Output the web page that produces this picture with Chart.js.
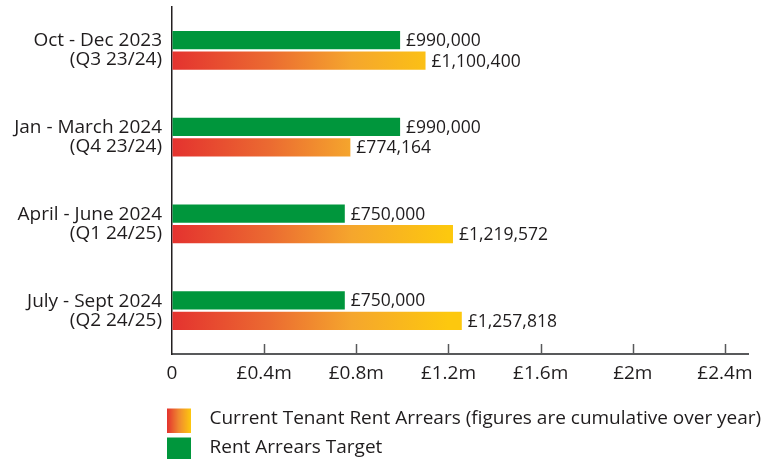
<!DOCTYPE html>
<html>
<head>
<meta charset="utf-8">
<script src="https://cdn.jsdelivr.net/npm/chart.js@4/dist/chart.umd.min.js"></script>
<style>
html,body{margin:0;padding:0;background:#ffffff;}
#wrap{width:775px;height:459px;}
canvas{display:block;}
</style>
</head>
<body>
<div id="wrap"><canvas id="c" width="775" height="459"></canvas></div>
<script>
// ---- data ----
const categories = [
  ["Oct - Dec 2023", "(Q3 23/24)"],
  ["Jan - March 2024", "(Q4 23/24)"],
  ["April - June 2024", "(Q1 24/25)"],
  ["July - Sept 2024", "(Q2 24/25)"]
];
const targetValues = [990000, 990000, 750000, 750000];
const arrearsValues = [1100400, 774164, 1219572, 1257818];
const xTickValues = [0, 400000, 800000, 1200000, 1600000, 2000000, 2400000];
const arrearsName = "Current Tenant Rent Arrears (figures are cumulative over year)";
const targetName = "Rent Arrears Target";

// ---- styles ----
const FONT = '"Open Sans", "Noto Sans", sans-serif';
const TEXT = '#1f1c1d';
const GREEN = '#00963c';
const GRAD_STOPS = [[0, '#e4322f'], [0.35, '#eb6a31'], [0.65, '#f5a62d'], [1, '#fdc80e']];

function fmtMoney(v) {
  return '£' + v.toLocaleString('en-GB');
}

function arrearsFill(context) {
  const chart = context.chart;
  const xs = chart.scales && chart.scales.x;
  if (!xs || !chart.chartArea) return GRAD_STOPS[1][1];
  const x0 = xs.getPixelForValue(0);
  const x1 = xs.getPixelForValue(1200000);
  const g = chart.ctx.createLinearGradient(x0, 0, x1, 0);
  GRAD_STOPS.forEach(s => g.addColorStop(s[0], s[1]));
  return g;
}

// legend swatches (box placed inside a wider transparent image)
const SW_W = 190, SW_H = 28, BOX_X = 157, BOX_Y = 4, BOX = 24;
function makeSwatch(kind) {
  const c = document.createElement('canvas');
  c.width = SW_W; c.height = SW_H;
  const x = c.getContext('2d');
  if (kind === 'grad') {
    const g = x.createLinearGradient(BOX_X, 0, BOX_X + BOX, 0);
    g.addColorStop(0, '#e4322f');
    g.addColorStop(0.5, '#f08a30');
    g.addColorStop(1, '#fdc80e');
    x.fillStyle = g;
  } else {
    x.fillStyle = GREEN;
  }
  x.fillRect(BOX_X, BOX_Y, BOX, BOX);
  return c;
}

const valueLabels = {
  id: 'valueLabels',
  afterDatasetsDraw(chart) {
    const ctx = chart.ctx;
    ctx.save();
    ctx.font = '17.5px ' + FONT;
    ctx.fillStyle = TEXT;
    ctx.textAlign = 'left';
    ctx.textBaseline = 'middle';
    chart.data.datasets.forEach((ds, i) => {
      chart.getDatasetMeta(i).data.forEach((bar, j) => {
        ctx.fillText(fmtMoney(ds.data[j]), bar.x + 6, bar.y + 1);
      });
    });
    ctx.restore();
  }
};

const upTicks = {
  id: 'upTicks',
  afterDraw(chart) {
    const xs = chart.scales.x;
    const ctx = chart.ctx;
    const bottom = chart.chartArea.bottom;
    ctx.save();
    ctx.strokeStyle = '#58595b';
    ctx.lineWidth = 1.5;
    xs.ticks.forEach(t => {
      if (t.value === 0) return;
      const px = Math.round(xs.getPixelForValue(t.value)) + 0.5;
      ctx.beginPath();
      ctx.moveTo(px, bottom);
      ctx.lineTo(px, bottom - 10);
      ctx.stroke();
    });
    ctx.restore();
  }
};

function draw() {
  const swGrad = makeSwatch('grad');
  const swGreen = makeSwatch('green');
  new Chart(document.getElementById('c'), {
    type: 'bar',
    data: {
      labels: categories,
      datasets: [
        { label: targetName, data: targetValues, backgroundColor: GREEN,
          categoryPercentage: 0.47, barPercentage: 0.9 },
        { label: arrearsName, data: arrearsValues, backgroundColor: arrearsFill,
          categoryPercentage: 0.47, barPercentage: 0.9 }
      ]
    },
    options: {
      indexAxis: 'y',
      responsive: false,
      animation: false,
      devicePixelRatio: 1,
      layout: { padding: { top: 7, right: 0, left: 0, bottom: -8 } },
      scales: {
        x: {
          min: 0, max: 2500000,
          afterBuildTicks(scale) { scale.ticks = xTickValues.map(v => ({ value: v })); },
          afterFit(scale) {
            scale.height = 45;
            scale.paddingLeft = 0; scale.paddingRight = 27;
          },
          grid: { display: true, drawOnChartArea: false, drawTicks: false },
          border: { display: true, color: '#58595b', width: 2 },
          ticks: {
            padding: 8,
            color: TEXT,
            font: { family: FONT, size: 19 },
            maxRotation: 0,
            autoSkip: false,
            callback(v) { return v === 0 ? '0' : '£' + (v / 1e6) + 'm'; }
          }
        },
        y: {
          afterFit(scale) {
            scale.width = 172;
            scale.paddingTop = 0; scale.paddingBottom = 0;
          },
          grid: { display: true, drawOnChartArea: false, drawTicks: false },
          border: { display: true, color: '#231f20', width: 1.5 },
          ticks: {
            padding: 10,
            color: TEXT,
            font: { family: FONT, size: 19, lineHeight: 1.0 }
          }
        }
      },
      plugins: {
        tooltip: { enabled: false },
        legend: {
          position: 'bottom',
          align: 'start',
          labels: {
            usePointStyle: true,
            pointStyleWidth: SW_W,
            padding: 10,
            color: TEXT,
            font: { family: FONT, size: 19 },
            generateLabels() {
              return [
                { text: arrearsName, fillStyle: '#f08a30', strokeStyle: 'rgba(0,0,0,0)', lineWidth: 0,
                  pointStyle: swGrad, hidden: false, datasetIndex: 1, fontColor: TEXT },
                { text: targetName, fillStyle: GREEN, strokeStyle: 'rgba(0,0,0,0)', lineWidth: 0,
                  pointStyle: swGreen, hidden: false, datasetIndex: 0, fontColor: TEXT }
              ];
            }
          }
        }
      }
    },
    plugins: [valueLabels, upTicks]
  });
}

if (document.fonts && document.fonts.load) {
  Promise.all([
    document.fonts.load('17px "Open Sans"'),
    document.fonts.load('19px "Open Sans"')
  ]).then(draw, draw);
} else {
  draw();
}
</script>
</body>
</html>
